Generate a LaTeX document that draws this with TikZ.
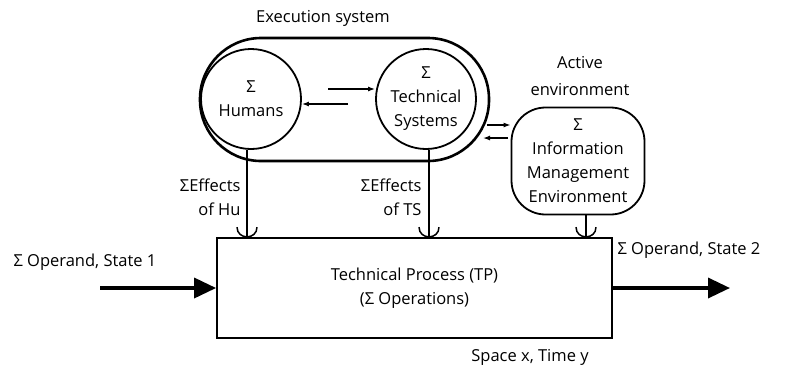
\documentclass[tikz,border=0pt]{standalone}
\usepackage{fontspec}
\setmainfont{Open Sans}
\usetikzlibrary{arrows.meta,shapes.misc}

\begin{document}
\begin{tikzpicture}
          [x=1pt,y=-1pt,font=\fontsize{16.5}{24}\selectfont,
          unit/.style={circle,draw,line width=1.8pt,minimum size=100pt,inner sep=0pt,align=center},
          envbox/.style={rectangle,draw,line width=1.8pt,rounded corners=34pt,minimum width=133pt,minimum height=107pt,align=center},
          flow/.style={line width=3.5pt,-{Triangle[length=22pt,width=20pt]}},
          swap/.style={line width=1.3pt,-{Latex[length=7pt,width=5pt]}},
          effect/.style={line width=1.5pt}]
          \useasboundingbox (0,0) rectangle (810,368);
          % execution system
          \node[draw,line width=2.6pt,rounded corners=61pt,minimum width=289pt,minimum height=123pt] (exec) at (344.5,99.5) {};
          \node (execlabel) at (323,18) {Execution system};
          \node[unit] (hum) at (251,99) {Σ\\Humans};
          \node[unit] (ts)  at (426,99) {Σ\\Technical\\Systems};
          % active environment
          \node[envbox] (ime) at (578,161) {Σ\\Information\\Management\\Environment};
          \node[align=center,font=\fontsize{16.5}{27}\selectfont] (envlabel) at (580,76) {Active\\environment};
          % technical process
          \node[rectangle,draw,line width=1.8pt,minimum width=395pt,minimum height=100pt,align=center] (tp) at (414.5,288)
          {Technical Process (TP)\\(Σ Operations)};
          \node (place) at (530,357) {Space x, Time y};
          % exchanges
          \coordinate (hu-out) at (328,89);
          \coordinate (ts-out) at (348,104);
          \coordinate (ts-env) at (487,125);
          \coordinate (env-ts) at (508,138);
          \coordinate (ts-in)  at (483,138);
          \draw[swap] (hu-out) -- (hu-out -| ts.west);
          \draw[swap] (ts-out) -- (ts-out -| hum.east);
          \draw[swap] (ts-env) -- (ts-env -| ime.west);
          \draw[swap] (env-ts) -- (ts-in);
          % effects
          \draw[effect] (hum.south -| 247,0) -- (247,0 |- tp.north) coordinate (hu-end);
          \draw[effect] (ts.south -| 429,0) -- (429,0 |- tp.north) coordinate (ts-end);
          \draw[effect] (ime.south -| 586,0) -- (586,0 |- tp.north) coordinate (env-end);
          \foreach \e in {hu-end,ts-end,env-end}
            \draw[effect] ([shift={(-10,-10)}]\e) .. controls ([shift={(-10,3)}]\e) and ([shift={(10,3)}]\e) .. ([shift={(10,-10)}]\e);
          \node[align=right,anchor=east] (hulabel) at (244,197) {ΣEffects\\of Hu};
          \node[align=right,anchor=east] (tslabel) at (425,197) {ΣEffects\\of TS};
          % operand
          \coordinate (opin) at (100,288);
          \coordinate (opout) at (730,288);
          \draw[flow] (opin) -- (tp.west |- opin);
          \draw[flow] (tp.east |- opout) -- (opout);
          \node[anchor=west] (state1) at (10,262) {Σ Operand, State 1};
          \node[anchor=west] (state2) at (614,250) {Σ Operand, State 2};
\end{tikzpicture}
\end{document}
